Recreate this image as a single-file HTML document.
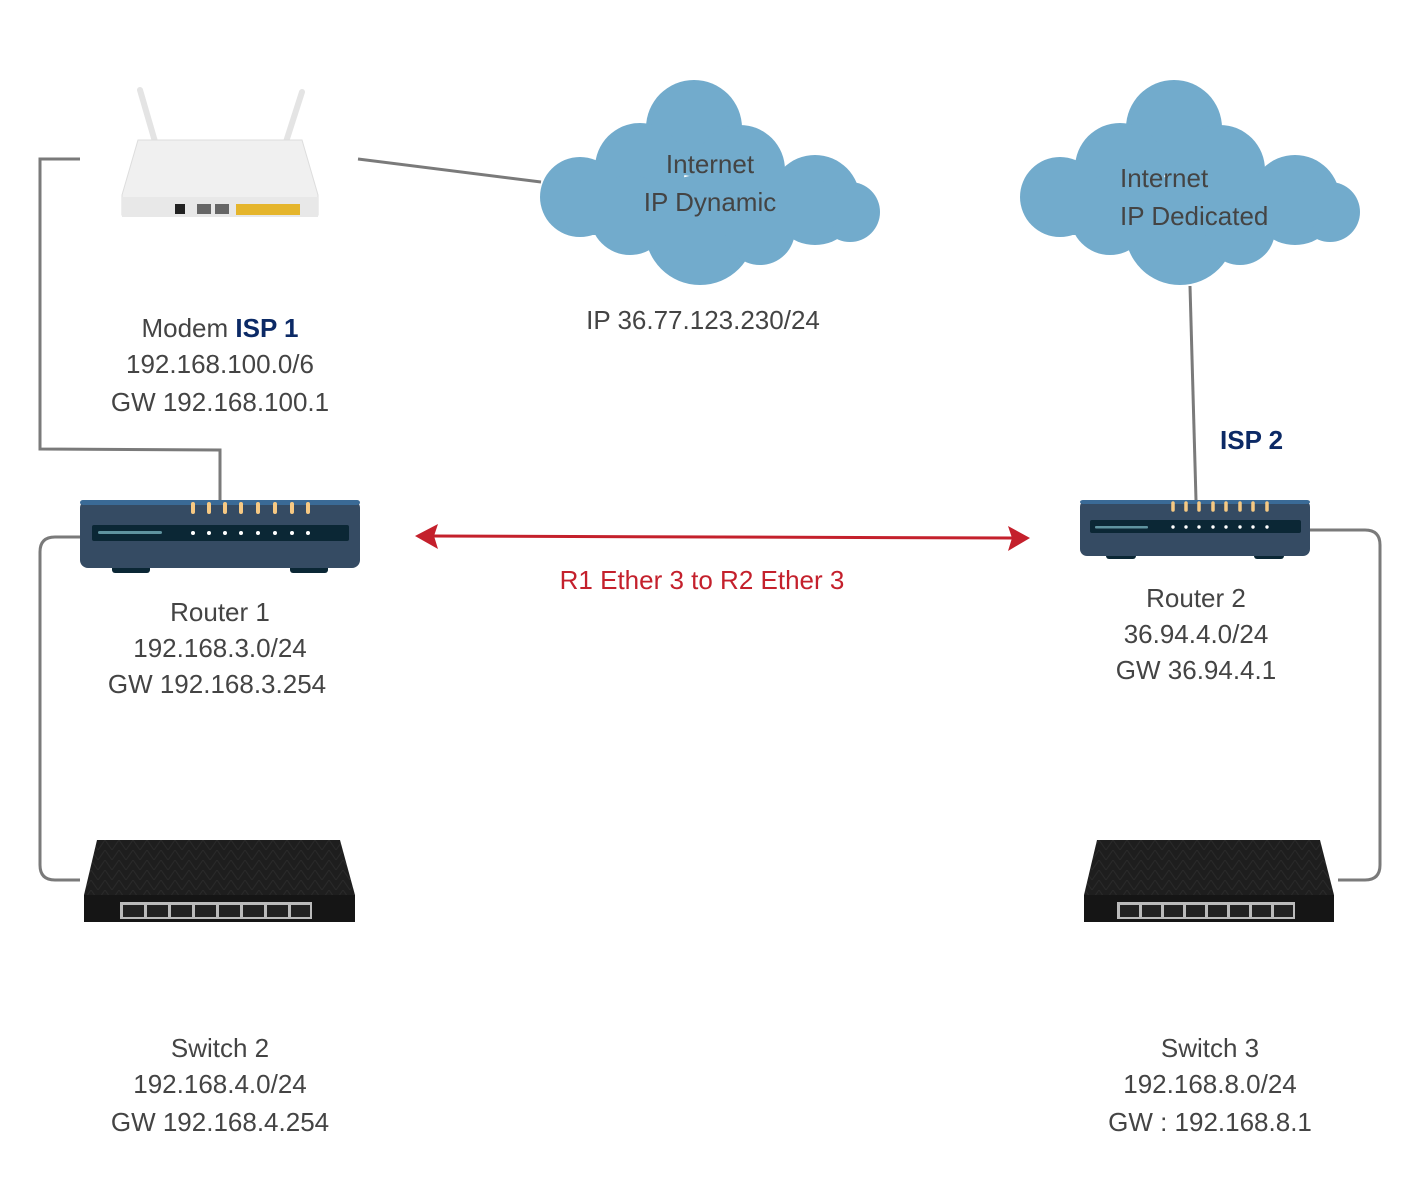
<!DOCTYPE html>
<html><head><meta charset="utf-8"><style>
html,body{margin:0;padding:0;background:#fff;}
svg text{font-family:"Liberation Sans",sans-serif;font-size:26px;fill:#444;}
</style></head><body>
<svg width="1420" height="1181" viewBox="0 0 1420 1181" xmlns="http://www.w3.org/2000/svg">
<defs>
<pattern id="sw" width="14" height="10" patternUnits="userSpaceOnUse"><rect width="14" height="10" fill="#1e1e1e"/><path d="M0 10 L7 0 L14 10" fill="none" stroke="#2a2a2a" stroke-width="1"/></pattern>
</defs>
<g fill="none" stroke="#7a7a7a" stroke-width="3">
<path d="M80 159 H40 V449 L220 450 V500"/>
<path d="M358 159 L541 182"/>
<path d="M1190 286 L1196 500"/>
<path d="M80 537 H55 Q40 537 40 552 V865 Q40 880 55 880 H80"/>
<path d="M1310 530 H1365 Q1380 530 1380 545 V865 Q1380 880 1365 880 H1338"/>
</g>
<g fill="#72abcc">
<circle cx="694" cy="128" r="48"/><circle cx="640" cy="168" r="45"/><circle cx="580" cy="197" r="40"/>
<circle cx="740" cy="170" r="45"/><circle cx="815" cy="200" r="45"/><circle cx="850" cy="212" r="30"/>
<circle cx="700" cy="230" r="55"/><circle cx="630" cy="215" r="40"/><circle cx="760" cy="230" r="35"/>
<rect x="560" y="180" width="280" height="55" rx="25"/>
<circle cx="1174" cy="128" r="48"/><circle cx="1120" cy="168" r="45"/><circle cx="1060" cy="197" r="40"/>
<circle cx="1220" cy="170" r="45"/><circle cx="1295" cy="200" r="45"/><circle cx="1330" cy="212" r="30"/>
<circle cx="1180" cy="230" r="55"/><circle cx="1110" cy="215" r="40"/><circle cx="1240" cy="230" r="35"/>
<rect x="1040" y="180" width="280" height="55" rx="25"/>
</g>
<g>
<path d="M140 90 L156 145" stroke="#e4e4e4" stroke-width="6" stroke-linecap="round"/>
<path d="M302 92 L285 145" stroke="#e4e4e4" stroke-width="6" stroke-linecap="round"/>
<path d="M138 140 H302 L318 195 V215 H122 V195 Z" fill="#f0f0f0" stroke="#ddd"/>
<rect x="122" y="197" width="196" height="20" fill="#e8e8e8"/>
<rect x="236" y="204" width="64" height="11" fill="#e5b52c"/>
<rect x="175" y="204" width="10" height="10" fill="#222"/>
<rect x="197" y="204" width="14" height="10" fill="#666"/><rect x="215" y="204" width="14" height="10" fill="#666"/>
</g>
<g>
<rect x="112" y="562" width="38" height="11" rx="3" fill="#0b2735"/><rect x="290" y="562" width="38" height="11" rx="3" fill="#0b2735"/>
<rect x="80" y="500" width="280" height="68" rx="8" fill="#354b63"/>
<rect x="80" y="500" width="280" height="5" rx="3" fill="#3a6a96"/>
<rect x="92" y="525" width="257" height="16" rx="2" fill="#0b2735"/>
<rect x="98" y="531" width="64" height="3" rx="1.5" fill="#5f939f"/>
<g fill="#fff"><circle cx="193" cy="533" r="2"/><circle cx="209" cy="533" r="2"/><circle cx="225" cy="533" r="2"/><circle cx="241" cy="533" r="2"/><circle cx="258" cy="533" r="2"/><circle cx="275" cy="533" r="2"/><circle cx="292" cy="533" r="2"/><circle cx="308" cy="533" r="2"/></g>
<g stroke="#f6c983" stroke-width="4" stroke-linecap="round"><path d="M193 504v8M209 504v8M225 504v8M241 504v8M258 504v8M275 504v8M292 504v8M308 504v8"/></g>
</g>
<g>
<rect x="1106" y="551" width="30" height="8" rx="3" fill="#0b2735"/><rect x="1254" y="551" width="30" height="8" rx="3" fill="#0b2735"/>
<rect x="1080" y="500" width="230" height="56" rx="7" fill="#354b63"/>
<rect x="1080" y="500" width="230" height="4" rx="3" fill="#3a6a96"/>
<rect x="1090" y="520" width="211" height="13" rx="2" fill="#0b2735"/>
<rect x="1095" y="526" width="53" height="2.5" rx="1" fill="#5f939f"/>
<g fill="#fff"><circle cx="1173" cy="527" r="1.7"/><circle cx="1186" cy="527" r="1.7"/><circle cx="1199" cy="527" r="1.7"/><circle cx="1213" cy="527" r="1.7"/><circle cx="1226" cy="527" r="1.7"/><circle cx="1240" cy="527" r="1.7"/><circle cx="1253" cy="527" r="1.7"/><circle cx="1267" cy="527" r="1.7"/></g>
<g stroke="#f6c983" stroke-width="3.5" stroke-linecap="round"><path d="M1173 503v7M1186 503v7M1199 503v7M1213 503v7M1226 503v7M1240 503v7M1253 503v7M1267 503v7"/></g>
</g>
<g>
<path d="M97 840 H340 L355 895 V922 H84 V895 Z" fill="url(#sw)"/>
<rect x="84" y="895" width="271" height="27" fill="#151515"/>
<rect x="120" y="902" width="192" height="17" fill="#bbb"/>
<g fill="#222"><rect x="123" y="905" width="21" height="12"/><rect x="147" y="905" width="21" height="12"/><rect x="171" y="905" width="21" height="12"/><rect x="195" y="905" width="21" height="12"/><rect x="219" y="905" width="21" height="12"/><rect x="243" y="905" width="21" height="12"/><rect x="267" y="905" width="21" height="12"/><rect x="291" y="905" width="19" height="12"/></g>
<path d="M1097 840 H1320 L1334 895 V922 H1084 V895 Z" fill="url(#sw)"/>
<rect x="1084" y="895" width="250" height="27" fill="#151515"/>
<rect x="1117" y="902" width="178" height="17" fill="#bbb"/>
<g fill="#222"><rect x="1120" y="905" width="19" height="12"/><rect x="1142" y="905" width="19" height="12"/><rect x="1164" y="905" width="19" height="12"/><rect x="1186" y="905" width="19" height="12"/><rect x="1208" y="905" width="19" height="12"/><rect x="1230" y="905" width="19" height="12"/><rect x="1252" y="905" width="19" height="12"/><rect x="1274" y="905" width="19" height="12"/></g>
</g>
<path d="M432 536 L1012 538" stroke="#c4202c" stroke-width="3"/>
<path d="M415 536 L438 524 L434 536 L438 549 Z" fill="#c4202c"/>
<path d="M1030 538 L1008 526 L1012 538 L1008 551 Z" fill="#c4202c"/>
<g text-anchor="middle">
<text x="710" y="173">Internet</text><text x="710" y="211">IP Dynamic</text>
<text x="220" y="337">Modem <tspan font-weight="bold" fill="#0c2a66">ISP 1</tspan></text>
<text x="220" y="373">192.168.100.0/6</text><text x="220" y="411">GW 192.168.100.1</text>
<text x="703" y="329">IP 36.77.123.230/24</text>
<text x="220" y="621">Router 1</text><text x="220" y="657">192.168.3.0/24</text><text x="217" y="693">GW 192.168.3.254</text>
<text x="702" y="589" style="fill:#c4202c">R1 Ether 3 to R2 Ether 3</text>
<text x="1196" y="607">Router 2</text><text x="1196" y="643">36.94.4.0/24</text><text x="1196" y="679">GW 36.94.4.1</text>
<text x="220" y="1057">Switch 2</text><text x="220" y="1093">192.168.4.0/24</text><text x="220" y="1131">GW 192.168.4.254</text>
<text x="1210" y="1057">Switch 3</text><text x="1210" y="1093">192.168.8.0/24</text><text x="1210" y="1131">GW : 192.168.8.1</text>
</g>
<text x="1120" y="187">Internet</text><text x="1120" y="225">IP Dedicated</text>
<text x="1220" y="449" font-weight="bold" style="fill:#0c2a66">ISP 2</text>
</svg>
</body></html>
